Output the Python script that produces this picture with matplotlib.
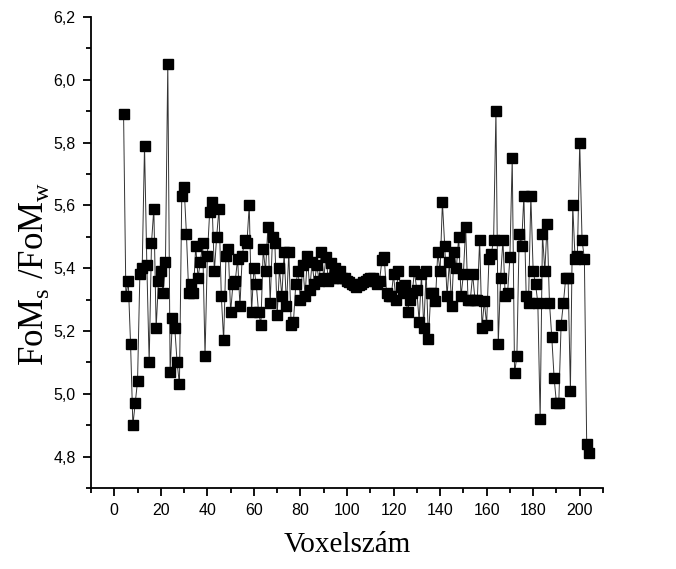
import numpy as np
import matplotlib.pyplot as plt
from matplotlib.ticker import MultipleLocator, FuncFormatter

# voxel index and FoM ratio
voxel = list(range(4, 205))
fom_ratio = [
    5.89, 5.31, 5.36, 5.16, 4.90, 4.97, 5.04, 5.38, 5.40, 5.79,
    5.41, 5.10, 5.48, 5.59, 5.21, 5.36, 5.39, 5.32, 5.42, 6.05,
    5.07, 5.24, 5.21, 5.10, 5.03, 5.63, 5.66, 5.51, 5.32, 5.35,
    5.32, 5.47, 5.37, 5.42, 5.48, 5.12, 5.44, 5.58, 5.61, 5.39,
    5.50, 5.59, 5.31, 5.17, 5.44, 5.46, 5.26, 5.35, 5.36, 5.43,
    5.28, 5.44, 5.49, 5.48, 5.60, 5.26, 5.40, 5.35, 5.26, 5.22,
    5.46, 5.39, 5.53, 5.29, 5.50, 5.48, 5.25, 5.40, 5.31, 5.45,
    5.28, 5.45, 5.22, 5.23, 5.35, 5.39, 5.30, 5.41, 5.31, 5.44,
    5.33, 5.42, 5.35, 5.41, 5.36, 5.45, 5.37, 5.435, 5.36, 5.415,
    5.37, 5.40, 5.37, 5.39, 5.37, 5.37, 5.36, 5.355, 5.35, 5.345,
    5.34, 5.345, 5.35, 5.355, 5.36, 5.365, 5.37, 5.37, 5.36, 5.35,
    5.36, 5.425, 5.435, 5.32, 5.31, 5.31, 5.38, 5.30, 5.39, 5.34,
    5.32, 5.345, 5.26, 5.30, 5.32, 5.39, 5.33, 5.23, 5.38, 5.21,
    5.39, 5.175, 5.32, 5.32, 5.295, 5.45, 5.39, 5.61, 5.47, 5.31,
    5.42, 5.28, 5.45, 5.40, 5.50, 5.31, 5.38, 5.53, 5.30, 5.30,
    5.38, 5.30, 5.30, 5.49, 5.21, 5.295, 5.22, 5.43, 5.445, 5.49,
    5.90, 5.16, 5.37, 5.49, 5.31, 5.32, 5.435, 5.75, 5.065, 5.12,
    5.51, 5.47, 5.63, 5.31, 5.29, 5.63, 5.39, 5.35, 5.29, 4.92,
    5.51, 5.39, 5.54, 5.29, 5.18, 5.05, 4.97, 4.97, 5.22, 5.29,
    5.37, 5.37, 5.01, 5.60, 5.43, 5.44, 5.80, 5.49, 5.43, 4.84,
    4.81,
]

fig = plt.figure(figsize=(6.76, 5.69), dpi=100)
ax = fig.add_axes([0.1346, 0.1424, 0.7574, 0.8278])

ax.plot(voxel, fom_ratio, color="#333333", linewidth=0.7,
        marker="s", markersize=7, markerfacecolor="black",
        markeredgecolor="black")

ax.set_xlim(-10, 210)
ax.set_ylim(4.7, 6.2)
ax.xaxis.set_major_locator(MultipleLocator(20))
ax.xaxis.set_minor_locator(MultipleLocator(10))
ax.yaxis.set_major_locator(MultipleLocator(0.2))
ax.yaxis.set_minor_locator(MultipleLocator(0.1))
ax.yaxis.set_major_formatter(FuncFormatter(lambda v, p: f"{v:.1f}".replace(".", ",")))

for s in ["top", "right"]:
    ax.spines[s].set_visible(False)
for s in ["left", "bottom"]:
    ax.spines[s].set_linewidth(1.3)

ax.tick_params(which="major", direction="out", length=6, width=1.3,
               labelsize=11.5, pad=5)
ax.tick_params(which="minor", direction="out", length=3.5, width=1.3)
for lbl in ax.get_xticklabels() + ax.get_yticklabels():
    lbl.set_fontfamily("Liberation Sans")

ax.set_xlabel("Voxelszám", fontsize=21, family="Liberation Serif", labelpad=10)
ax.set_ylabel(r"FoM$_\mathregular{s}$ /FoM$_\mathregular{w}$", fontsize=25,
              family="Liberation Serif")
ax.yaxis.set_label_coords(-0.078, 0.455)

fig.savefig("out.png", dpi=100)
